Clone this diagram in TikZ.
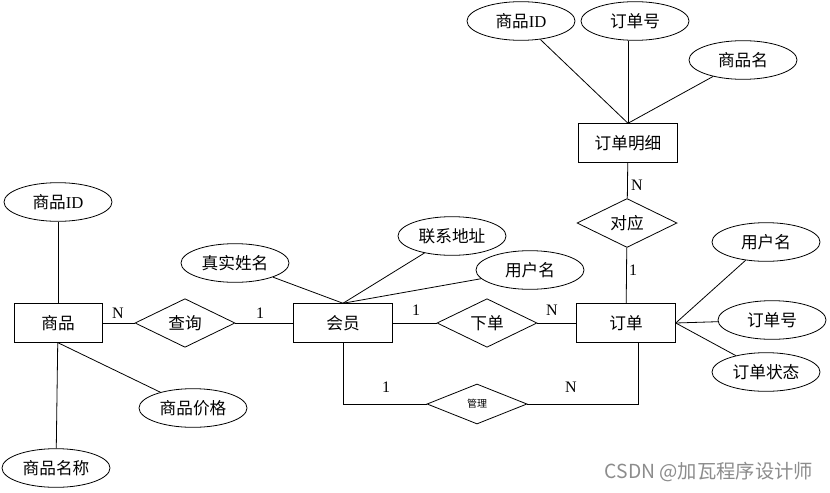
\documentclass[tikz,border=0pt]{standalone}
\usepackage{fontspec}
\setmainfont{Liberation Serif}
\newfontfamily\cjk{Noto Sans CJK SC}
\usetikzlibrary{shapes.geometric}

\tikzset{
  entity/.style={draw, rectangle, minimum width=74pt, minimum height=29pt, font=\cjk\fontsize{12.5}{14}\selectfont},
  attr/.style={draw, ellipse, minimum width=81pt, minimum height=29pt, inner sep=0pt, font=\cjk\fontsize{12.5}{14}\selectfont},
  rel/.style={draw, diamond, minimum width=75pt, minimum height=30pt, inner sep=0pt, font=\cjk\fontsize{12.5}{14}\selectfont},
  card/.style={font=\fontsize{12}{14}\selectfont},
}

\begin{document}
\begin{tikzpicture}[x=0.75pt,y=-0.75pt,line width=0.6pt]
	\useasboundingbox (0,0) rectangle (830,492);

	% Entitaeten
	\node[entity, minimum width=66pt] (sp) at (58,323) {商品};
	\node[entity] (hy)   at (343,323) {会员};
	\node[entity] (dd)   at (626,323) {订单};
	\node[entity] (ddmx) at (628,143) {订单明细};

	% Beziehungen
	\node[rel] (cx) at (185,323) {查询};
	\node[rel] (xd) at (487,323) {下单};
	\node[rel] (dy) at (627,223) {对应};
	\node[rel, font=\cjk\fontsize{7.5}{8}\selectfont] (gl) at (477,404) {管理};

	% Attribute zu 商品
	\node[attr] (spid) at (58,202)  {商品{\rmfamily ID}};
	\node[attr] (spmc) at (56,468)  {商品名称};
	\node[attr] (spjg) at (193,408) {商品价格};

	% Attribute zu 会员
	\node[attr] (zsxm) at (235,263) {真实姓名};
	\node[attr] (lxdz) at (452,236) {联系地址};
	\node[attr] (yhm1) at (530,270) {用户名};

	% Attribute zu 订单明细
	\node[attr] (spid2) at (521,21) {商品{\rmfamily ID}};
	\node[attr] (ddh1)  at (635,21) {订单号};
	\node[attr] (spm)   at (743,60) {商品名};

	% Attribute zu 订单
	\node[attr] (yhm2) at (766,242) {用户名};
	\node[attr] (ddh2) at (772,320) {订单号};
	\node[attr] (ddzt) at (766,372) {订单状态};

	% Verbindungen
	\draw (sp) -- (spid);
	\draw (sp) -- (spmc);
	\draw (sp.south) -- (spjg);
	\draw (hy.north) -- (zsxm);
	\draw (hy.north) -- (lxdz);
	\draw (hy.north) -- (yhm1);
	\draw (ddmx.north) -- (spid2);
	\draw (ddmx.north) -- (ddh1.south -| ddmx.north);
	\draw (ddmx.north) -- (spm);
	\draw (dd.east) -- (yhm2);
	\draw (dd.east) -- (ddh2);
	\draw (dd.east) -- (ddzt);

	\draw (sp) -- (cx) -- (hy);
	\draw (hy) -- (xd) -- (dd);
	\draw (ddmx) -- (dy) -- (dd);
	\draw (hy.south) |- (gl.west);
	\draw (gl.east) -| ([xshift=9pt]dd.south);

	% Kardinalitaeten
	\node[card] (c1) at (118,313) {N};
	\node[card] (c2) at (260,313) {1};
	\node[card] (c3) at (416,310) {1};
	\node[card] (c4) at (552,310) {N};
	\node[card] (c5) at (637,185) {N};
	\node[card] (c6) at (633,270) {1};
	\node[card] (c7) at (386,387) {1};
	\node[card] (c8) at (571,387) {N};

	\node[font=\cjk\fontsize{14.5}{16}\selectfont, text=black!45] (wm) at (709,472) {CSDN @加瓦程序设计师};
\end{tikzpicture}
\end{document}
